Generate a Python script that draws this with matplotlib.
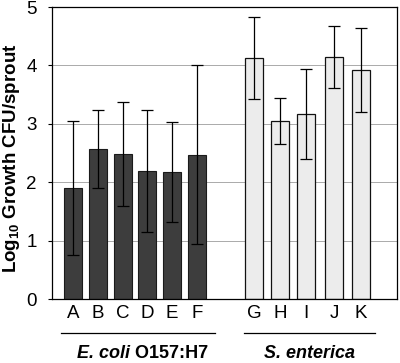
import matplotlib
matplotlib.use("Agg")
import matplotlib.pyplot as plt
import numpy as np

plt.rcParams['font.family'] = ['Liberation Sans', 'DejaVu Sans']
plt.rcParams['mathtext.fontset'] = 'custom'
plt.rcParams['mathtext.rm'] = 'Liberation Sans'
plt.rcParams['mathtext.bf'] = 'Liberation Sans:bold'

ecoli_labels = ["A", "B", "C", "D", "E", "F"]
ecoli_means = [1.90, 2.57, 2.48, 2.19, 2.17, 2.47]
ecoli_err = [1.15, 0.67, 0.89, 1.05, 0.86, 1.53]

sent_labels = ["G", "H", "I", "J", "K"]
sent_means = [4.13, 3.05, 3.17, 4.14, 3.92]
sent_err = [0.70, 0.40, 0.77, 0.53, 0.72]

yticks = [0, 1, 2, 3, 4, 5]

fig = plt.figure(figsize=(4.0, 3.63), dpi=100)
ax = fig.add_axes([0.13, 0.1763, 0.8625, 0.8044])

x_e = 21 + 24.8 * np.arange(len(ecoli_means))
x_s = np.array([202, 228, 254, 282, 309])[:len(sent_means)]
w = 18

ax.bar(x_e, ecoli_means, width=w, color='#3d3d3d', edgecolor='#1a1a1a', linewidth=0.8, zorder=2)
ax.bar(x_s, sent_means, width=w, color='#ececec', edgecolor='#111111', linewidth=0.9, zorder=2)
ax.errorbar(x_e, ecoli_means, yerr=ecoli_err, fmt='none', ecolor='black', elinewidth=0.9, capsize=4, capthick=0.9, zorder=3)
ax.errorbar(x_s, sent_means, yerr=sent_err, fmt='none', ecolor='black', elinewidth=0.9, capsize=4, capthick=0.9, zorder=3)

ax.set_xlim(0, 345)
ax.set_ylim(0, 5)
ax.set_yticks(yticks)
ax.set_yticklabels([str(t) for t in yticks], fontsize=13.5)
ax.yaxis.grid(True, color='#aaaaaa', linewidth=0.7, zorder=0)
ax.set_axisbelow(True)
ax.tick_params(axis='y', length=3, width=0.8, pad=8)
ax.set_xticks(list(x_e) + list(x_s))
ax.set_xticklabels(ecoli_labels + sent_labels, fontsize=13.5)
ax.tick_params(axis='x', length=0, pad=4)
for s in ax.spines.values():
    s.set_linewidth(0.9)

ax.set_ylabel(r"Log$_{\mathbf{10}}$ Growth CFU/sprout", fontsize=13.5, fontweight='bold')
ax.yaxis.set_label_coords(-0.087, 0.483)

# group lines and labels
trans = ax.get_xaxis_transform()
y_line = -(333 - 299) / 292
y_lab = -(353 - 299) / 292
ax.plot([9, 163], [y_line, y_line], transform=trans, color='black', linewidth=0.9, clip_on=False)
ax.plot([192, 323], [y_line, y_line], transform=trans, color='black', linewidth=0.9, clip_on=False)

t1 = ax.text(0, y_lab, "E. coli", transform=trans, ha='left', va='center',
             fontsize=13, fontweight='bold', style='italic')
t2 = ax.text(0, y_lab, " O157:H7", transform=trans, ha='left', va='center',
             fontsize=13, fontweight='bold')
fig.canvas.draw()
r = fig.canvas.get_renderer()
w1 = t1.get_window_extent(r).width
w2 = t2.get_window_extent(r).width
px_per_unit = ax.transData.transform((1, 0))[0] - ax.transData.transform((0, 0))[0]
center = 90.5
start = center - (w1 + w2) / 2 / px_per_unit
t1.set_x(start)
t2.set_x(start + w1 / px_per_unit)

ax.text(258, y_lab, "S. enterica", transform=trans, ha='center', va='center',
        fontsize=13, fontweight='bold', style='italic')

fig.savefig("out.png", dpi=100)
